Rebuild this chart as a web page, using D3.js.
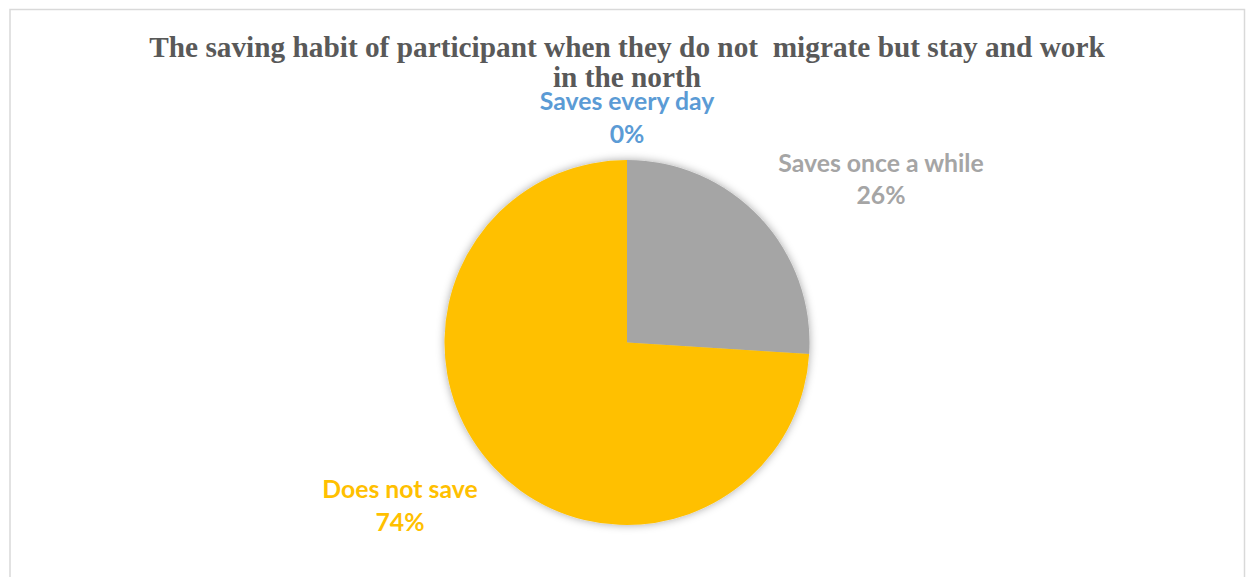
<!DOCTYPE html>
<html>
<head>
<meta charset="utf-8">
<script src="https://cdn.jsdelivr.net/npm/d3@7"></script>
<style>
  html, body { margin: 0; padding: 0; background: #fff; }
  svg { display: block; }
</style>
</head>
<body>
<svg id="chart" width="1250" height="577"></svg>
<script>
// Saving habit shares (percent)
const categories = ["Saves every day", "Saves once a while", "Does not save"];
const shares = [0, 26, 74];
const colors = ["#5b9bd5", "#a5a5a5", "#ffc000"];
const titleLines = ["The saving habit of participant when they do not  migrate but stay and work", "in the north"];

const W = 1250, H = 577;
const cx = 627, cy = 342.5, radius = 182.5;

const svg = d3.select("#chart");

// soft outer shadow around the pie
const defs = svg.append("defs");
const f = defs.append("filter").attr("id", "glow")
  .attr("x", "-20%").attr("y", "-20%").attr("width", "140%").attr("height", "140%");
f.append("feDropShadow").attr("dx", 0).attr("dy", 0)
  .attr("stdDeviation", 4).attr("flood-color", "#000").attr("flood-opacity", 0.35);

// chart frame
svg.append("rect")
  .attr("x", 10).attr("y", 9.5).attr("width", 1234.5).attr("height", 580)
  .attr("fill", "#fff").attr("stroke", "#d9d9d9").attr("stroke-width", 1.5);

const pie = d3.pie().sort(null).value(d => d.value);
const data = pie(categories.map((c, i) => ({ name: c, value: shares[i], color: colors[i] })));

const arc = d3.arc().innerRadius(0).outerRadius(radius);

const g = svg.append("g").attr("transform", `translate(${cx},${cy})`);
g.append("g").attr("filter", "url(#glow)")
  .selectAll("path").data(data).join("path")
  .attr("d", arc)
  .attr("fill", d => d.data.color);

// outside-end data labels
const labelOffsets = [
  { x: 0, y: -232.5 },
  { x: 254, y: -170.8 },
  { x: -227, y: 155.8 }
];
const labels = svg.append("g")
  .attr("font-family", "Lato, 'Open Sans', sans-serif")
  .attr("font-weight", "bold").attr("font-size", 24.8)
  .attr("text-anchor", "middle");
const lab = labels.selectAll("text").data(data).join("text")
  .attr("fill", d => d.data.color)
  .attr("transform", (d, i) => `translate(${cx + labelOffsets[i].x},${cy + labelOffsets[i].y})`);
lab.append("tspan").attr("x", 0).attr("y", 0).text(d => d.data.name);
lab.append("tspan").attr("x", 0).attr("y", 32.5).text(d => Math.round(d.data.value) + "%");

// title
const title = svg.append("text")
  .attr("text-anchor", "middle")
  .attr("font-family", "'Liberation Serif', 'Times New Roman', serif")
  .attr("font-weight", "bold").attr("font-size", 29.3)
  .attr("fill", "#595959")
  .style("white-space", "pre");
title.selectAll("tspan").data(titleLines).join("tspan")
  .attr("x", 627).attr("y", (d, i) => 57 + i * 30)
  .text(d => d);
</script>
</body>
</html>
